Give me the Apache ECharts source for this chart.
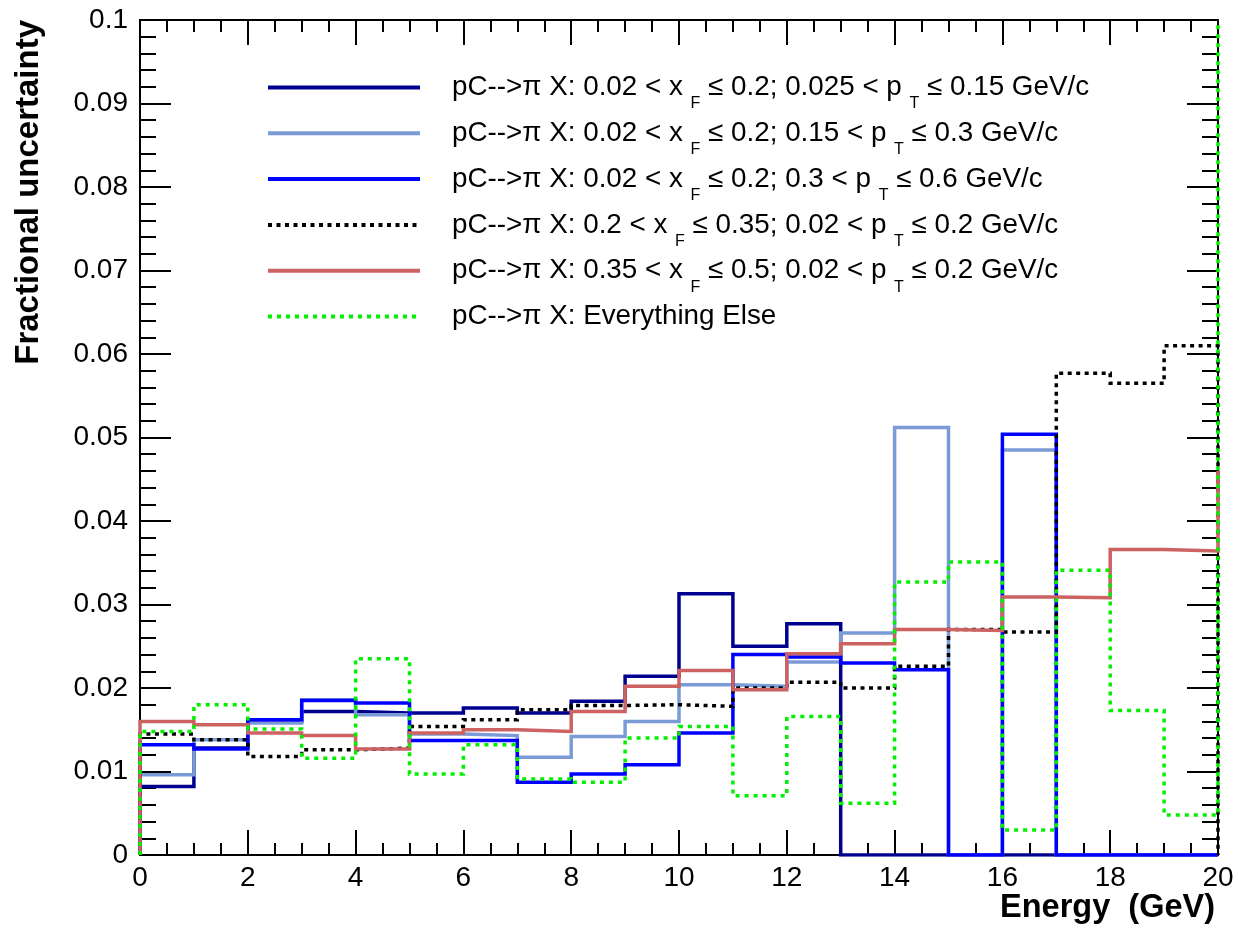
<!DOCTYPE html>
<html>
<head>
<meta charset="utf-8">
<script src="https://cdn.jsdelivr.net/npm/echarts@6/dist/echarts.min.js"></script>
<style>
  html, body { margin: 0; padding: 0; background: #fff; }
  #chart { width: 1238px; height: 928px; }
</style>
</head>
<body>
<div id="chart"></div>
<script>
// Energy bin edges (GeV), 1 GeV wide bins from 0 to 20
const binEdges = [0, 1, 2, 3, 4, 5, 6, 7, 8, 9, 10, 11, 12, 13, 14, 15, 16, 17, 18, 19, 20];

// Fractional uncertainty per energy bin, one array per pC --> pi X phase-space region
const lowXfLowPt = [0.0082, 0.0128, 0.0160, 0.0172, 0.0170, 0.0170, 0.0176, 0.0170, 0.0184, 0.0214,
                    0.0313, 0.0250, 0.0277, 0, 0, 0, 0, 0, 0, 0];
const lowXfMidPt = [0.0096, 0.0138, 0.0158, 0.0186, 0.0168, 0.0145, 0.0143, 0.0117, 0.0142, 0.0160,
                    0.0204, 0.0202, 0.0231, 0.0266, 0.0512, 0, 0.0485, 0, 0, 0];
const lowXfHighPt = [0.0132, 0.0127, 0.0162, 0.0185, 0.0182, 0.0137, 0.0137, 0.0087, 0.0097, 0.0108,
                     0.0146, 0.0240, 0.0237, 0.0230, 0.0222, 0, 0.0504, 0, 0, 0];
const midXf = [0.0145, 0.0138, 0.0118, 0.0126, 0.0128, 0.0154, 0.0162, 0.0174, 0.0179, 0.0180,
               0.0178, 0.0200, 0.0207, 0.0200, 0.0226, 0.0270, 0.0267, 0.0577, 0.0565, 0.0610];
const highXf = [0.0160, 0.0156, 0.0146, 0.0143, 0.0127, 0.0146, 0.0150, 0.0148, 0.0172, 0.0202,
                0.0221, 0.0198, 0.0241, 0.0253, 0.0270, 0.0269, 0.0309, 0.0308, 0.0366, 0.0364];
const everythingElse = [0.0148, 0.0180, 0.0151, 0.0116, 0.0235, 0.0097, 0.0132, 0.0091, 0.0087, 0.0140,
                        0.0154, 0.0071, 0.0166, 0.0062, 0.0327, 0.0351, 0.0030, 0.0341, 0.0173, 0.0048];

// Level at which each outline closes on the upper edge (x = 20)
const closingLevels = [0, 0, 0, 0, 0.046, 0.1];

// Legend labels split into normal text / subscript pieces
const legendParts = [
  ['pC-->\u03C0 X: 0.02 < x ', 'F', ' \u2264 0.2; 0.025 < p ', 'T', ' \u2264 0.15 GeV/c'],
  ['pC-->\u03C0 X: 0.02 < x ', 'F', ' \u2264 0.2; 0.15 < p ', 'T', ' \u2264 0.3 GeV/c'],
  ['pC-->\u03C0 X: 0.02 < x ', 'F', ' \u2264 0.2; 0.3 < p ', 'T', ' \u2264 0.6 GeV/c'],
  ['pC-->\u03C0 X: 0.2 < x ', 'F', ' \u2264 0.35; 0.02 < p ', 'T', ' \u2264 0.2 GeV/c'],
  ['pC-->\u03C0 X: 0.35 < x ', 'F', ' \u2264 0.5; 0.02 < p ', 'T', ' \u2264 0.2 GeV/c'],
  ['pC-->\u03C0 X: Everything Else', ' ']
];

// Axis tick labels
const yTickLabels = ['0', '0.01', '0.02', '0.03', '0.04', '0.05', '0.06', '0.07', '0.08', '0.09', '0.1'];
const xTickLabels = ['0', '2', '4', '6', '8', '10', '12', '14', '16', '18', '20'];

const seriesValues = [lowXfLowPt, lowXfMidPt, lowXfHighPt, midXf, highXf, everythingElse];
const seriesColors = ['#00008f', '#7b9bd6', '#0000ff', '#000000', '#cc6262', '#00f000'];
const seriesDash = ['solid', 'solid', 'solid', [4, 4.5], 'solid', [4, 5]];

const FONT = '"Liberation Sans", Arial, Helvetica, sans-serif';

// Histogram outline: rise at the lower edge, a flat step per bin, close at the upper edge
function outline(values, closing) {
  const pts = [[binEdges[0], 0]];
  values.forEach((v, i) => {
    pts.push([binEdges[i], v]);
    pts.push([binEdges[i + 1], v]);
  });
  pts.push([binEdges[binEdges.length - 1], closing]);
  return pts;
}

const names = legendParts.map(p => p.join(''));
const richByName = {};
legendParts.forEach((parts, k) => {
  richByName[names[k]] = parts.map((t, i) => (i % 2 === 0 ? '{n|' : '{s|') + t + '}').join('');
});

const series = seriesValues.map((vals, k) => ({
  name: names[k],
  type: 'line',
  data: outline(vals, closingLevels[k]),
  symbol: 'none',
  showSymbol: false,
  xAxisIndex: 0,
  yAxisIndex: 0,
  lineStyle: { color: seriesColors[k], width: 3.5, type: seriesDash[k], cap: 'butt', join: 'miter' },
  itemStyle: { color: seriesColors[k], opacity: 0 },
  emphasis: { disabled: true },
  z: 2 + k
}));

const tickStyle = { color: '#000', width: 2 };
const frameLine = { show: true, onZero: false, lineStyle: { color: '#000', width: 2 } };

const chart = echarts.init(document.getElementById('chart'), null, { renderer: 'canvas' });
chart.setOption({
  backgroundColor: '#ffffff',
  animation: false,
  grid: { left: 140, right: 20, top: 20, bottom: 73, containLabel: false, outerBoundsMode: 'none' },
  legend: {
    orient: 'vertical',
    left: 261,
    top: 58,
    itemWidth: 152,
    itemHeight: 14,
    itemGap: -3.2,
    selectedMode: false,
    data: names,
    formatter: name => richByName[name],
    itemStyle: { opacity: 0 },
    lineStyle: { width: 4 },
    textStyle: {
      color: '#000',
      fontFamily: FONT,
      padding: [0, 0, 0, 27],
      rich: {
        n: { fontSize: 27.8, lineHeight: 30, verticalAlign: 'middle', fontFamily: FONT, color: '#000' },
        s: { fontSize: 16, lineHeight: 16, verticalAlign: 'middle', padding: [33, 0, 0, 0], fontFamily: FONT, color: '#000' }
      }
    }
  },
  xAxis: [
    {
      type: 'value', min: 0, max: 20, interval: 2, position: 'bottom',
      axisLine: frameLine,
      axisTick: { show: true, inside: true, length: 25, lineStyle: tickStyle },
      minorTick: { show: true, splitNumber: 4, length: 12, lineStyle: tickStyle },
      splitLine: { show: false },
      axisLabel: {
        fontSize: 28, color: '#000', fontFamily: FONT, margin: 9,
        formatter: v => xTickLabels[Math.round(v / 2)]
      },
      name: 'Energy  (GeV)',
      nameLocation: 'end',
      nameGap: -3,
      nameMoveOverlap: false,
      nameTextStyle: {
        fontSize: 32.5, fontWeight: 'bold', color: '#000', fontFamily: FONT,
        align: 'right', verticalAlign: 'top', padding: [37, 0, 0, 0]
      }
    },
    {
      type: 'value', min: 0, max: 20, interval: 2, position: 'top',
      axisLine: frameLine,
      axisTick: { show: true, inside: true, length: 25, lineStyle: tickStyle },
      minorTick: { show: true, splitNumber: 4, length: 12, lineStyle: tickStyle },
      splitLine: { show: false },
      axisLabel: { show: false }
    }
  ],
  yAxis: [
    {
      type: 'value', min: 0, max: 0.1, interval: 0.01, position: 'left',
      axisLine: frameLine,
      axisTick: { show: true, inside: true, length: 31, lineStyle: tickStyle },
      minorTick: { show: true, splitNumber: 5, length: 16, lineStyle: tickStyle },
      splitLine: { show: false },
      axisLabel: {
        fontSize: 28, color: '#000', fontFamily: FONT, margin: 12,
        formatter: v => yTickLabels[Math.round(v * 100)]
      },
      name: 'Fractional uncertainty',
      nameLocation: 'end',
      nameRotate: 90,
      nameGap: 0,
      nameMoveOverlap: false,
      nameTextStyle: {
        fontSize: 33, fontWeight: 'bold', color: '#000', fontFamily: FONT,
        align: 'right', verticalAlign: 'bottom', padding: [0, 0, 95, 0]
      }
    },
    {
      type: 'value', min: 0, max: 0.1, interval: 0.01, position: 'right',
      axisLine: frameLine,
      axisTick: { show: true, inside: true, length: 31, lineStyle: tickStyle },
      minorTick: { show: true, splitNumber: 5, length: 16, lineStyle: tickStyle },
      splitLine: { show: false },
      axisLabel: { show: false }
    }
  ],
  series: series
});
</script>
</body>
</html>
